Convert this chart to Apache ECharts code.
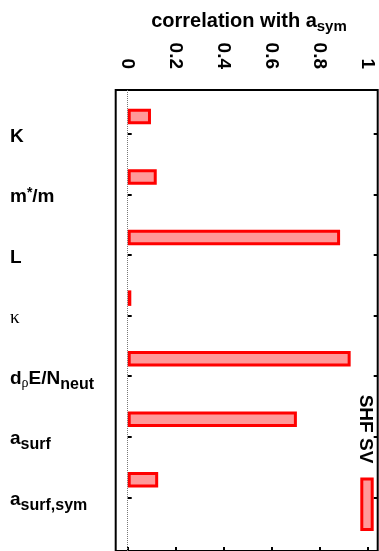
<!DOCTYPE html>
<html><head><meta charset="utf-8">
<script src="https://cdn.jsdelivr.net/npm/echarts@6/dist/echarts.min.js"></script>
<style>html,body{margin:0;padding:0;background:#fff}#c{width:379px;height:551px}</style>
</head><body><div id="c"></div>
<script>
const categories = ['K', 'm*/m', 'L', 'κ', 'dρE/Nneut', 'asurf', 'asurf,sym'];
const categoryLabels = ['{m|K}', '{m|m}{sup|*}{m|/m}', '{m|L}', '{g|κ}', '{m|d}{gs|ρ}{m|E/N}{sub|neut}', '{m|a}{sub|surf}', '{m|a}{sub|surf,sym}'];
const correlation = [0.097, 0.121, 0.885, 0.015, 0.929, 0.705, 0.127];
const xTicks = [0, 0.2, 0.4, 0.6, 0.8, 1];
const xTickLabels = ['0', '0.2', '0.4', '0.6', '0.8', '1'];
const seriesName = 'SHF SV';
const titleText = '{m|correlation with a}{sub|sym}';

const F = '"Liberation Sans", Arial, Helvetica, sans-serif';
const S = '"Liberation Serif", "DejaVu Serif", serif';
const XMIN = -0.05, XMAX = 1.0417;
const chart = echarts.init(document.getElementById('c'), null, {renderer: 'canvas'});
const richLab = {
  m: {fontSize: 19, fontWeight: 'bold', fontFamily: F, color: '#000'},
  sub: {fontSize: 16, fontWeight: 'bold', fontFamily: F, color: '#000', padding: [11, 0, 0, 0]},
  sup: {fontSize: 14, fontWeight: 'bold', fontFamily: F, color: '#000', padding: [0, 0, 8, 0]},
  g: {fontSize: 19, fontWeight: 'normal', fontFamily: S, color: '#000'},
  gs: {fontSize: 14, fontWeight: 'normal', fontFamily: S, color: '#000', padding: [10, 0, 0, 0]}
};
chart.setOption({
  animation: false,
  backgroundColor: '#fff',
  title: {
    text: titleText, left: 244, top: 4, textAlign: 'center',
    textStyle: {rich: {
      m: {fontSize: 20, fontWeight: 'bold', fontFamily: F, color: '#000'},
      sub: {fontSize: 15, fontWeight: 'bold', fontFamily: F, color: '#000', padding: [10, 0, 0, 0]}
    }}
  },
  legend: {
    data: [seriesName], left: 360.3, top: 477.5, padding: 0, icon: 'rect',
    itemWidth: 10.4, itemHeight: 50.5, selectedMode: false, formatter: () => '',
    itemStyle: {color: '#ff9999', borderColor: '#ff0000', borderWidth: 3}
  },
  graphic: [{
    type: 'text', x: 365.5, y: 429, rotation: -Math.PI / 2,
    style: {text: seriesName, font: 'bold 19px ' + F, fill: '#000', align: 'center', verticalAlign: 'middle'}
  }],
  grid: [
    {left: 115.7, width: 262, top: 90, height: 463, show: true, borderColor: '#000', borderWidth: 2, backgroundColor: 'transparent'},
    {left: 115.7, width: 262, top: 103.7, height: 423.9}
  ],
  xAxis: [
    {gridIndex: 0, type: 'value', position: 'top', min: XMIN, max: XMAX,
     axisLine: {show: false}, splitLine: {show: false},
     axisTick: {show: true, inside: true, length: 4, lineStyle: {color: '#000', width: 2}, customValues: xTicks},
     axisLabel: {show: true, rotate: -90, margin: 21, customValues: xTicks,
       fontSize: 19, fontWeight: 'bold', fontFamily: F, color: '#000',
       formatter: v => xTickLabels[xTicks.indexOf(v)]}
    },
    {gridIndex: 0, type: 'value', position: 'bottom', min: XMIN, max: XMAX,
     axisLine: {show: false}, splitLine: {show: false},
     axisTick: {show: true, inside: true, length: 4, lineStyle: {color: '#000', width: 2}, customValues: xTicks},
     axisLabel: {show: false}
    },
    {gridIndex: 1, type: 'value', min: XMIN, max: XMAX, show: false}
  ],
  yAxis: [
    {gridIndex: 0, type: 'value', min: 0, max: 1, show: false},
    {gridIndex: 1, type: 'category', data: categories, inverse: true, position: 'left',
     axisLine: {show: false}, splitLine: {show: false},
     axisTick: {show: true, inside: true, alignWithLabel: true, length: 4, lineStyle: {color: '#000', width: 2}},
     axisLabel: {show: true, align: 'left', margin: 105.7, padding: [5, 0, 0, 0], rich: richLab,
       formatter: (v, i) => categoryLabels[i]}
    },
    {gridIndex: 1, type: 'category', data: categories, inverse: true, position: 'right',
     axisLine: {show: false}, splitLine: {show: false},
     axisTick: {show: true, inside: true, alignWithLabel: true, length: 4, lineStyle: {color: '#000', width: 2}},
     axisLabel: {show: false}
    }
  ],
  series: [
    {type: 'bar', name: seriesName, xAxisIndex: 2, yAxisIndex: 1, data: correlation,
     barWidth: 15.5, barGap: '126%',
     itemStyle: {color: '#ff9999', borderColor: '#ff0000', borderWidth: 3}},
    {type: 'bar', name: 'spacer', xAxisIndex: 2, yAxisIndex: 1, data: categories.map(() => '-'),
     barWidth: 15.5, itemStyle: {color: 'transparent'}},
    {type: 'line', name: 'zero', xAxisIndex: 0, yAxisIndex: 0, data: [], silent: true,
     markLine: {silent: true, symbol: 'none', label: {show: false},
       lineStyle: {type: 'dotted', color: '#777', width: 1}, data: [{xAxis: 0}]}}
  ]
});
</script></body></html>
